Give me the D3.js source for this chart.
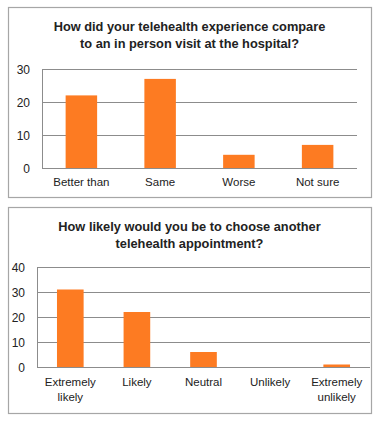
<!DOCTYPE html>
<html><head><meta charset="utf-8">
<script src="https://cdn.jsdelivr.net/npm/d3@7"></script>
<style>body{margin:0;background:#fff}svg{display:block}text{font-family:"Liberation Sans",Arial,sans-serif;fill:#222}</style>
</head><body><svg width="380" height="422"></svg>
<script>
const title1 = ["How did your telehealth experience compare", "to an in person visit at the hospital?"];
const categories1 = [["Better than"], ["Same"], ["Worse"], ["Not sure"]];
const values1 = [22, 27, 4, 7];
const ticks1 = [0, 10, 20, 30];

const title2 = ["How likely would you be to choose another", "telehealth appointment?"];
const categories2 = [["Extremely", "likely"], ["Likely"], ["Neutral"], ["Unlikely"], ["Extremely", "unlikely"]];
const values2 = [31, 22, 6, 0, 1];
const ticks2 = [0, 10, 20, 30, 40];

const svg = d3.select("svg");
const orange = "#fd7b22";

function chart(cfg) {
  const g = svg.append("g");
  g.append("rect").attr("x", cfg.fx + 0.5).attr("y", cfg.fy + 0.5)
    .attr("width", cfg.fw).attr("height", cfg.fh)
    .attr("fill", "#fff").attr("stroke", "#a6a6a6").attr("stroke-width", 1.2);
  const tt = g.append("text").attr("text-anchor", "middle")
    .attr("font-size", 12.8).attr("font-weight", "bold");
  cfg.title.forEach((t, i) => tt.append("tspan").attr("x", cfg.fx + cfg.fw / 2)
    .attr("y", cfg.ty + i * 17).text(t));
  const x = d3.scaleBand().domain(cfg.cats.map((d, i) => i))
    .range([cfg.left, cfg.right]).paddingInner(0.6).paddingOuter(0.3);
  const y = d3.scaleLinear().domain([0, d3.max(cfg.ticks)]).range([cfg.bottom, cfg.top]);
  g.selectAll(".grid").data(cfg.ticks).join("line")
    .attr("x1", cfg.left).attr("x2", cfg.right)
    .attr("y1", d => Math.round(y(d)) + 0.5).attr("y2", d => Math.round(y(d)) + 0.5)
    .attr("stroke", "#8c8c8c").attr("stroke-width", 1);
  g.append("line").attr("x1", cfg.left + 0.5).attr("x2", cfg.left + 0.5)
    .attr("y1", y(d3.max(cfg.ticks))).attr("y2", cfg.bottom)
    .attr("stroke", "#8c8c8c");
  g.selectAll(".yl").data(cfg.ticks).join("text")
    .attr("x", cfg.ylx).attr("y", d => y(d) + 4.5)
    .attr("text-anchor", "end").attr("font-size", 12).text(d => d);
  g.selectAll(".bar").data(cfg.values).join("rect")
    .attr("x", (d, i) => x(i)).attr("width", x.bandwidth())
    .attr("y", d => y(d)).attr("height", d => cfg.bottom - y(d))
    .attr("fill", orange);
  cfg.cats.forEach((lines, i) => {
    const t = g.append("text").attr("text-anchor", "middle").attr("font-size", 11.5);
    lines.forEach((l, j) => t.append("tspan")
      .attr("x", x(i) + x.bandwidth() / 2).attr("y", cfg.xly + j * 14.5).text(l));
  });
}

chart({fx: 8, fy: 7, fw: 363, fh: 190, title: title1, ty: 31,
  cats: categories1, values: values1, ticks: ticks1,
  left: 42, right: 357, top: 69, bottom: 168, ylx: 30, xly: 186});
chart({fx: 8, fy: 207, fw: 363, fh: 206, title: title2, ty: 231,
  cats: categories2, values: values2, ticks: ticks2,
  left: 37, right: 370, top: 267, bottom: 367, ylx: 25, xly: 386});
</script></body></html>
